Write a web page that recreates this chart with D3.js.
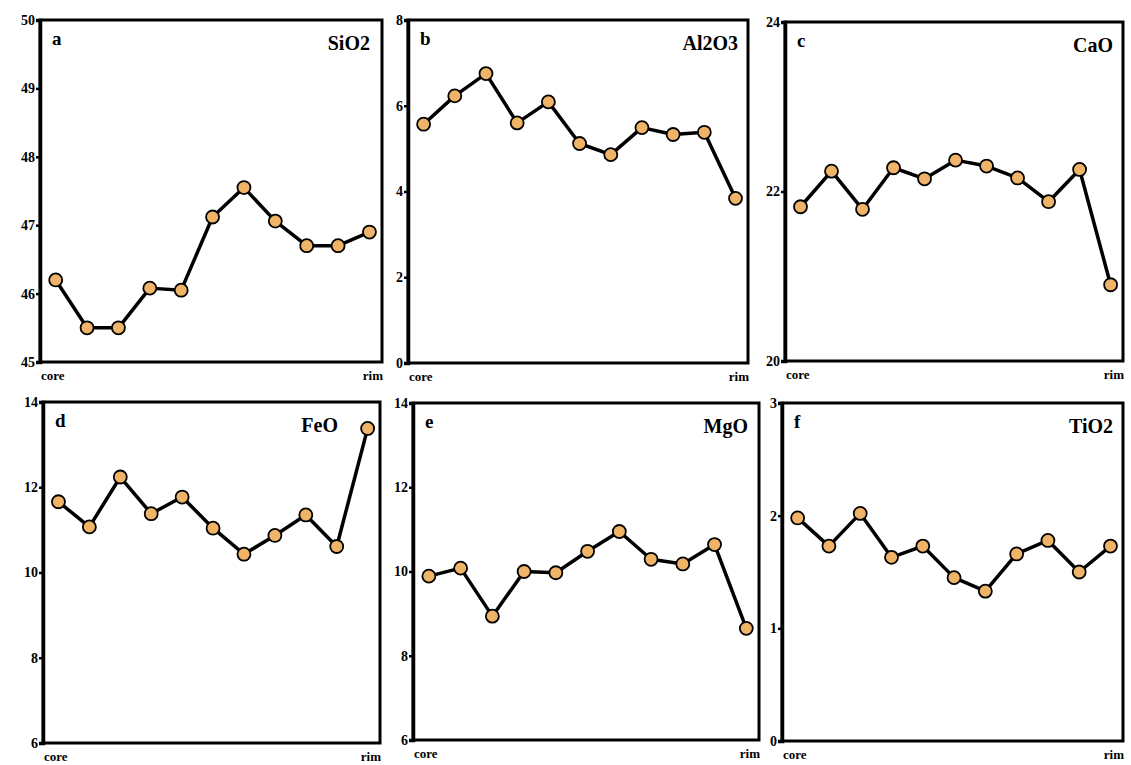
<!DOCTYPE html>
<html>
<head>
<meta charset="utf-8">
<script src="https://cdn.jsdelivr.net/npm/d3@7"></script>
<style>
  body { margin: 0; background: #fff; }
  svg text { font-family: "Liberation Serif", "DejaVu Serif", serif; font-weight: bold; }
</style>
</head>
<body>
<svg id="chart" width="1131" height="765"></svg>
<script>
// oxide profiles, core -> rim (wt%)
var oxides = ['SiO2', 'Al2O3', 'CaO', 'FeO', 'MgO', 'TiO2'];
var letters = ['a', 'b', 'c', 'd', 'e', 'f'];

var sio2  = [46.2, 45.5, 45.5, 46.08, 46.05, 47.12, 47.55, 47.06, 46.7, 46.7, 46.9];
var al2o3 = [5.57, 6.23, 6.75, 5.6, 6.09, 5.12, 4.86, 5.49, 5.33, 5.38, 3.84];
var cao   = [21.82, 22.24, 21.79, 22.28, 22.15, 22.37, 22.3, 22.16, 21.88, 22.26, 20.9];
var feo   = [11.66, 11.07, 12.24, 11.38, 11.77, 11.04, 10.43, 10.87, 11.35, 10.61, 13.38];
var mgo   = [9.89, 10.08, 8.94, 10.0, 9.97, 10.48, 10.95, 10.29, 10.18, 10.64, 8.65];
var tio2  = [1.98, 1.73, 2.02, 1.63, 1.73, 1.45, 1.33, 1.66, 1.78, 1.5, 1.73];

var yTicksA = [45, 46, 47, 48, 49, 50];
var yTicksB = [0, 2, 4, 6, 8];
var yTicksC = [20, 22, 24];
var yTicksD = [6, 8, 10, 12, 14];
var yTicksE = [6, 8, 10, 12, 14];
var yTicksF = [0, 1, 2, 3];

var xLabels = ['core', 'rim'];

var series = [sio2, al2o3, cao, feo, mgo, tio2];
var ticks = [yTicksA, yTicksB, yTicksC, yTicksD, yTicksE, yTicksF];

// plot boxes: left, top, right, bottom
var boxes = [
  [40, 20, 382, 362],
  [408, 20, 748, 363],
  [785, 22, 1123, 361],
  [43, 402, 380, 743],
  [413, 403, 759, 740],
  [782, 403, 1123, 741]
];
// gap between the oxide name and the right frame
var nameGap = [12, 10, 10, 42, 11, 10];

var svg = d3.select('#chart');

series.forEach(function(vals, i) {
  var b = boxes[i];
  var t = ticks[i];
  var x = d3.scaleLinear().domain([-0.5, 10.4]).range([b[0], b[2]]);
  var y = d3.scaleLinear().domain([t[0], t[t.length - 1]]).range([b[3], b[1]]);
  var g = svg.append('g');

  g.append('rect')
    .attr('x', b[0]).attr('y', b[1])
    .attr('width', b[2] - b[0]).attr('height', b[3] - b[1])
    .attr('fill', 'none').attr('stroke', '#000').attr('stroke-width', 3);

  var ax = g.append('g')
    .attr('transform', 'translate(' + b[0] + ',0)')
    .call(d3.axisLeft(y).tickValues(t).tickSize(4).tickPadding(1).tickFormat(d3.format('d')));
  ax.select('.domain').attr('stroke-width', 3.5);
  ax.selectAll('.tick line').attr('stroke-width', 2.5);
  ax.selectAll('.tick text').attr('font-size', 14).style('font-size', '14px').attr('fill', '#000');

  g.append('text').attr('x', b[0] + 1).attr('y', b[3] + 18)
    .style('font-size', '13px').text(xLabels[0]);
  g.append('text').attr('x', b[2] + 1).attr('y', b[3] + 18)
    .attr('text-anchor', 'end').style('font-size', '13px').text(xLabels[1]);

  g.append('text').attr('x', b[0] + 12).attr('y', b[1] + 25)
    .style('font-size', '19px').text(letters[i]);
  g.append('text').attr('x', b[2] - nameGap[i]).attr('y', b[1] + 30)
    .attr('text-anchor', 'end').style('font-size', '20px').text(oxides[i]);

  var line = d3.line()
    .x(function(d, k) { return x(k); })
    .y(function(d) { return y(d); });

  g.append('path').datum(vals)
    .attr('d', line).attr('fill', 'none')
    .attr('stroke', '#000').attr('stroke-width', 3.5)
    .attr('stroke-linejoin', 'round');

  g.selectAll('circle').data(vals).enter().append('circle')
    .attr('cx', function(d, k) { return x(k); })
    .attr('cy', function(d) { return y(d); })
    .attr('r', 6.5)
    .attr('fill', '#f0b468')
    .attr('stroke', '#000').attr('stroke-width', 1.8);
});
</script>
</body>
</html>
